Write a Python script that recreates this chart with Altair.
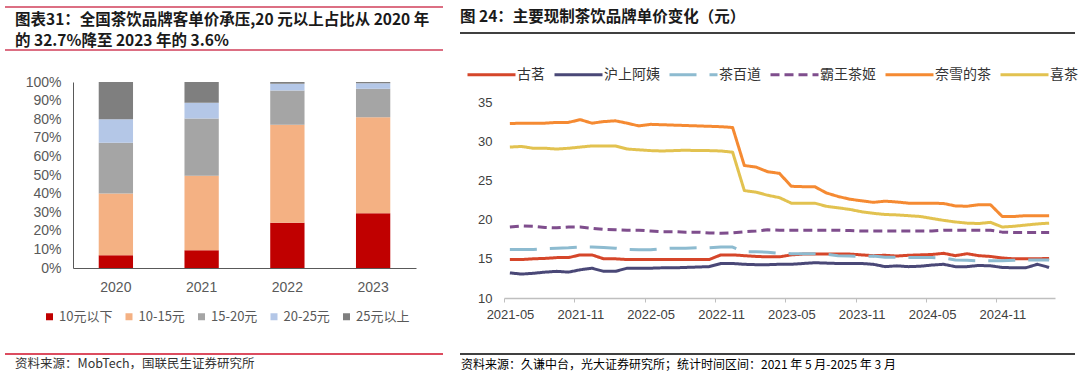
import json
import altair as alt
import pandas as pd

CJK = "Noto Sans CJK SC"
LAT = "Liberation Sans"

# ---------------- left panel data ----------------
years = ["2020", "2021", "2022", "2023"]
price_bands = ["10元以下", "10-15元", "15-20元", "20-25元", "25元以上"]
band_colors = ["#C00000", "#F4B183", "#A5A5A5", "#B4C7E7", "#7F7F7F"]
share_under10 = [0.068, 0.095, 0.243, 0.295]
share_10_15 = [0.332, 0.401, 0.527, 0.516]
share_15_20 = [0.273, 0.308, 0.184, 0.153]
share_20_25 = [0.127, 0.084, 0.037, 0.029]
share_over25 = [0.200, 0.112, 0.009, 0.007]

# ---------------- right panel data ----------------
brands = ["古茗", "沪上阿姨", "茶百道", "霸王茶姬", "奈雪的茶", "喜茶"]
brand_colors = ["#D5462A", "#4A4877", "#8DBBD0", "#7F4E8D", "#F58A32", "#E2C250"]
brand_dashes = [[1, 0], [1, 0], [27, 13], [9, 5], [1, 0], [1, 0]]
tick_labels = ["2021-05", "2021-11", "2022-05", "2022-11",
               "2023-05", "2023-11", "2024-05", "2024-11"]
guming = [14.9, 14.9, 15.0, 15.05, 15.15, 15.15, 15.5, 15.5, 15.0, 15.0,
          14.9, 14.9, 14.9, 14.9, 14.9, 14.9, 14.9, 14.9, 15.5, 15.5,
          15.4, 15.3, 15.25, 15.25, 15.5, 15.6, 15.6, 15.6, 15.6, 15.6,
          15.5, 15.4, 15.45, 15.35, 15.45, 15.5, 15.55, 15.7, 15.4, 15.65,
          15.4, 15.3, 15.1, 15.0, 15.0, 15.0, 15.05]
hushang = [13.2, 13.05, 13.15, 13.3, 13.4, 13.3, 13.6, 13.8, 13.4, 13.4,
           13.8, 13.8, 13.8, 13.85, 13.85, 13.9, 13.95, 14.0, 14.4, 14.4,
           14.3, 14.25, 14.25, 14.3, 14.3, 14.4, 14.5, 14.45, 14.4, 14.4,
           14.4, 14.3, 14.0, 14.1, 14.0, 14.05, 14.2, 14.3, 14.0, 14.0,
           14.15, 14.1, 13.9, 13.85, 13.85, 14.3, 13.9]
chabaidao = [16.2, 16.2, 16.2, 16.3, 16.35, 16.4, 16.5, 16.5, 16.45, 16.35,
             16.2, 16.15, 16.15, 16.3, 16.35, 16.35, 16.4, 16.4, 16.5, 16.5,
             15.9, 15.9, 15.85, 15.7, 15.65, 15.65, 15.65, 15.6, 15.4, 15.35,
             15.3, 15.35, 15.2, 15.2, 15.15, 15.15, 15.15, 15.1, 14.85, 14.8,
             14.75, 14.75, 14.75, 14.8, 14.85, 14.85, 14.85]
bawang = [19.05, 19.2, 19.15, 19.0, 18.95, 19.05, 19.05, 18.9, 18.75, 18.7,
          18.65, 18.65, 18.55, 18.45, 18.45, 18.4, 18.4, 18.3, 18.25, 18.3,
          18.45, 18.55, 18.7, 18.65, 18.65, 18.65, 18.65, 18.65, 18.65, 18.6,
          18.55, 18.55, 18.55, 18.55, 18.55, 18.55, 18.55, 18.65, 18.65, 18.65,
          18.65, 18.65, 18.4, 18.35, 18.35, 18.35, 18.35]
naixue = [32.25, 32.3, 32.3, 32.3, 32.4, 32.4, 32.75, 32.3, 32.5, 32.6,
          32.3, 31.95, 32.15, 32.1, 32.05, 32.0, 31.95, 31.9, 31.85, 31.75,
          26.9, 26.7, 26.1, 25.9, 24.25, 24.2, 24.2, 23.4, 22.95, 22.6,
          22.4, 22.2, 22.35, 22.25, 22.1, 22.1, 22.1, 22.05, 21.75, 21.7,
          21.9, 21.9, 20.4, 20.4, 20.5, 20.5, 20.5]
heytea = [29.25, 29.33, 29.1, 29.1, 29.0, 29.1, 29.25, 29.4, 29.4, 29.4,
          29.0, 28.9, 28.8, 28.75, 28.8, 28.85, 28.8, 28.8, 28.75, 28.6,
          23.7, 23.5, 23.1, 22.8, 22.1, 22.1, 22.1, 21.7, 21.5, 21.3,
          21.0, 20.8, 20.65, 20.6, 20.5, 20.4, 20.15, 19.9, 19.7, 19.55,
          19.5, 19.65, 19.05, 19.15, 19.3, 19.45, 19.55]

# ---------------- texts ----------------
left_title_1 = "图表31：全国茶饮品牌客单价承压,20 元以上占比从 2020 年"
left_title_2 = "的 32.7%降至 2023 年的 3.6%"
left_source = "资料来源：MobTech，国联民生证券研究所"
right_title = "图 24：主要现制茶饮品牌单价变化（元）"
right_source = "资料来源：久谦中台，光大证券研究所；统计时间区间：2021 年 5 月-2025 年 3 月"

# ---------------- tables ----------------
band_series = [share_under10, share_10_15, share_15_20, share_20_25, share_over25]
bar_rows = []
for bi, (band, vals) in enumerate(zip(price_bands, band_series)):
    for y, v in zip(years, vals):
        bar_rows.append({"year": y, "band": band, "band_idx": bi, "share": v})
df_bars = pd.DataFrame(bar_rows)

line_series = [guming, hushang, chabaidao, bawang, naixue, heytea]
line_rows = []
for b, vals in zip(brands, line_series):
    for i, v in enumerate(vals):
        line_rows.append({"brand": b, "idx": i, "value": v})
df_lines = pd.DataFrame(line_rows)
n_months = len(guming)

# ---------------- left: stacked bars ----------------
bars = alt.Chart(df_bars).mark_bar().encode(
    x=alt.X("year:N",
            scale=alt.Scale(domain=years, range=[73, 416], paddingInner=0.6, paddingOuter=0.3),
            axis=alt.Axis(orient="bottom", offset=-108, title=None, labelAngle=0,
                          ticks=False, tickSize=0, labelPadding=12,
                          domainColor="#595959", domainWidth=1,
                          labelFont=LAT, labelFontSize=14, labelColor="#595959")),
    y=alt.Y("share:Q", stack="zero",
            scale=alt.Scale(domain=[0, 1], range=[268, 82], nice=False, zero=True),
            axis=alt.Axis(orient="left", offset=-73, title=None, format=".0%",
                          values=[i / 10 for i in range(11)], grid=False,
                          ticks=False, tickSize=0, labelPadding=12,
                          domainColor="#595959", domainWidth=1, labelFlush=False,
                          labelFont=LAT, labelFontSize=14, labelColor="#595959")),
    color=alt.Color("band:N",
                    scale=alt.Scale(domain=price_bands, range=band_colors),
                    legend=alt.Legend(orient="none", legendX=43, legendY=310,
                                      direction="horizontal", columns=5, title=None,
                                      symbolType="square", symbolSize=49,
                                      symbolStrokeWidth=0, labelOffset=3,
                                      columnPadding=9.5, padding=0,
                                      labelFont=CJK, labelFontSize=13,
                                      labelColor="#595959")),
    order=alt.Order("band_idx:Q", sort="ascending"),
)

# ---------------- right: lines ----------------
label_expr = json.dumps(tick_labels) + "[round((datum.value + 0.5) / 6)]"
line_legend = alt.Legend(orient="none", legendX=466, legendY=49,
                         direction="horizontal", columns=6, title=None,
                         symbolType="stroke", symbolSize=2304,
                         symbolStrokeWidth=3, labelOffset=0,
                         columnPadding=3, padding=0, labelLimit=200,
                         labelFont=CJK, labelFontSize=14,
                         labelColor="#333333")
lines = alt.Chart(df_lines).mark_line(strokeWidth=3, strokeJoin="round").encode(
    x=alt.X("idx:Q",
            scale=alt.Scale(domain=[-0.5, n_months - 0.5], range=[504, 1055],
                            nice=False, zero=False),
            axis=alt.Axis(orient="bottom", offset=-78, title=None,
                          values=[-0.5 + 6 * k for k in range(len(tick_labels))],
                          labelExpr=label_expr, labelOffset=6, labelFlush=False,
                          grid=False, tickSize=4, tickColor="#BFBFBF",
                          domainColor="#BFBFBF", domainWidth=1.5, labelPadding=6,
                          labelFont=LAT, labelFontSize=13, labelColor="#404040")),
    y=alt.Y("value:Q",
            scale=alt.Scale(domain=[10, 35], range=[298, 102], nice=False, zero=False),
            axis=alt.Axis(orient="left", offset=-504, title=None,
                          values=[10, 15, 20, 25, 30, 35], grid=False,
                          domain=False, ticks=False, tickSize=0, labelPadding=12,
                          labelFlush=False,
                          labelFont=LAT, labelFontSize=13, labelColor="#404040")),
    color=alt.Color("brand:N",
                    scale=alt.Scale(domain=brands, range=brand_colors),
                    legend=line_legend),
    strokeDash=alt.StrokeDash("brand:N",
                              scale=alt.Scale(domain=brands, range=brand_dashes),
                              legend=line_legend),
)

# ---------------- decorations ----------------
one = alt.Data(values=[{}])


def text_at(txt, x, y, size, weight="normal", color="#000000"):
    return alt.Chart(one).mark_text(
        text=txt, align="left", baseline="middle", font=CJK,
        fontSize=size, fontWeight=weight, color=color,
    ).encode(x=alt.value(x), y=alt.value(y))


def hline(x1, x2, y, color, width):
    return alt.Chart(one).mark_rule(color=color, strokeWidth=width).encode(
        x=alt.value(x1), x2=alt.value(x2), y=alt.value(y))


decor = [
    hline(5, 443, 7, "#DC6F83", 2),
    hline(5, 443, 50, "#DC6F83", 2),
    text_at(left_title_1, 15, 20, 15.5, "bold", "#1a1a1a"),
    text_at(left_title_2, 15, 41, 15.5, "bold", "#1a1a1a"),
    hline(5, 443, 354, "#D0102A", 1.5),
    text_at(left_source, 15, 364, 12.5, "normal", "#333333"),
    text_at(right_title, 460, 17, 15.5, "bold", "#1a1a1a"),
    hline(460, 1075, 33, "#404040", 2),
    hline(460, 1075, 354, "#000000", 1.5),
    text_at(right_source, 461, 365, 12, "normal", "#000000"),
]

chart = alt.layer(bars, lines, *decor).resolve_scale(
    x="independent", y="independent", color="independent", strokeDash="independent"
).properties(
    width=1080, height=376,
    autosize=alt.AutoSizeParams(type="none"),
    padding=0,
    background="white",
).configure_view(strokeWidth=0)

chart.save("out.html", embed_options={"renderer": "svg", "actions": False})
